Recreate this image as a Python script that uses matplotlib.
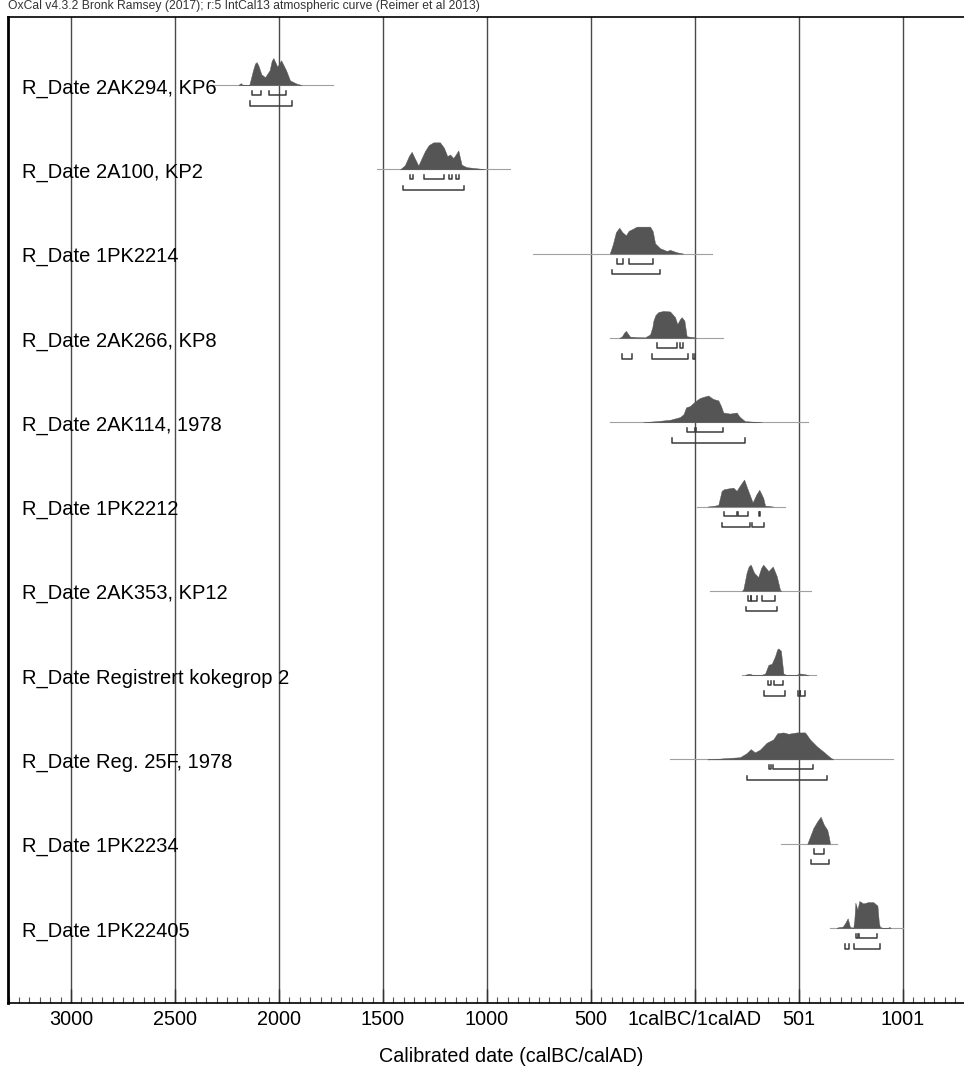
import matplotlib.pyplot as plt
from matplotlib.ticker import MultipleLocator
import matplotlib.transforms as mtransforms

plt.rcParams["font.family"] = ["Liberation Sans", "DejaVu Sans"]

HEADER = "OxCal v4.3.2 Bronk Ramsey (2017); r:5 IntCal13 atmospheric curve (Reimer et al 2013)"

labels = [
    "R_Date 2AK294, KP6",
    "R_Date 2A100, KP2",
    "R_Date 1PK2214",
    "R_Date 2AK266, KP8",
    "R_Date 2AK114, 1978",
    "R_Date 1PK2212",
    "R_Date 2AK353, KP12",
    "R_Date Registrert kokegrop 2",
    "R_Date Reg. 25F, 1978",
    "R_Date 1PK2234",
    "R_Date 1PK22405",
]

# years: negative = BC, positive = AD ; p = relative probability (max 1)
kp6_yr = [-2195, -2184, -2173, -2143, -2125, -2115, -2107, -2098, -2085, -2067,
          -2045, -2035, -2027, -2008, -1990, -1966, -1947, -1915, -1891]
kp6_p = [0, 0.07, 0, 0, 0.55, 0.8, 0.85, 0.7, 0.4, 0.29,
         0.55, 0.9, 1.0, 0.68, 0.92, 0.55, 0.17, 0.05, 0]
kp2_yr = [-1418, -1395, -1375, -1362, -1350, -1330, -1315, -1298, -1280, -1258, -1226,
          -1207, -1191, -1178, -1162, -1150, -1138, -1122, -1098, -1050, -1010]
kp2_p = [0, 0.15, 0.5, 0.65, 0.45, 0.14, 0.4, 0.68, 0.9, 1.0, 1.0,
         0.8, 0.49, 0.55, 0.42, 0.55, 0.7, 0.17, 0.08, 0.04, 0]
pk2214_yr = [-410, -395, -380, -364, -350, -332, -318, -304, -280, -250, -216,
             -203, -192, -168, -136, -120, -88, -56]
pk2214_p = [0, 0.35, 0.8, 0.96, 0.8, 0.68, 0.85, 0.9, 1.0, 1.0, 1.0,
            0.83, 0.38, 0.2, 0.1, 0.14, 0.05, 0]
kp8_yr = [-365, -352, -340, -332, -322, -313, -280, -240, -216, -205, -200, -190,
          -176, -152, -120, -96, -85, -72, -64, -51, -40, -8, 8]
kp8_p = [0, 0.05, 0.2, 0.26, 0.15, 0.05, 0.03, 0.02, 0.13, 0.4, 0.64, 0.85,
         0.96, 1.0, 0.98, 0.77, 0.51, 0.7, 0.77, 0.64, 0.06, 0.03, 0]
ak114_yr = [-250, -184, -120, -72, -55, -43, -24, 0, 24, 45, 64, 80, 88, 112,
            125, 136, 168, 200, 215, 240, 280, 321]
ak114_p = [0, 0.04, 0.09, 0.19, 0.3, 0.55, 0.6, 0.77, 0.9, 0.95, 0.99, 0.9, 0.86, 0.81,
           0.6, 0.36, 0.32, 0.36, 0.2, 0.04, 0.02, 0]
pk2212_yr = [60, 88, 112, 121, 128, 139, 160, 184, 200, 218, 236, 256, 277, 295,
             309, 328, 337, 376]
pk2212_p = [0, 0.02, 0.06, 0.35, 0.58, 0.64, 0.67, 0.7, 0.58, 0.8, 1.0, 0.58, 0.15, 0.45,
            0.62, 0.32, 0.03, 0]
kp12_yr = [225, 232, 240, 248, 258, 268, 284, 304, 318, 328, 353, 374, 393, 409, 415]
kp12_p = [0, 0.05, 0.35, 0.67, 0.9, 0.97, 0.67, 0.51, 0.85, 0.97, 0.73, 0.9, 0.54, 0.03, 0]
kok2_yr = [240, 252, 264, 276, 296, 320, 337, 353, 369, 385, 395, 401, 413, 425,
           441, 485, 502, 515, 529, 545]
kok2_p = [0, 0.04, 0.05, 0.01, 0.0, 0.01, 0.06, 0.38, 0.42, 0.7, 0.95, 0.99, 0.9, 0.06,
          0, 0, 0.06, 0.05, 0.03, 0]
r25f_yr = [60, 88, 136, 216, 248, 268, 288, 312, 345, 376, 396, 425, 449, 489,
           529, 553, 585, 617, 649, 665]
r25f_p = [0, 0.01, 0.04, 0.08, 0.23, 0.38, 0.26, 0.36, 0.62, 0.74, 0.97, 1.0, 0.95, 1.0,
          1.0, 0.74, 0.49, 0.29, 0.08, 0]
pk2234_yr = [540, 553, 569, 588, 604, 620, 636, 645, 649]
pk2234_p = [0, 0.26, 0.58, 0.83, 1.0, 0.7, 0.51, 0.2, 0]
pk22405_yr = [680, 689, 710, 721, 734, 745, 761, 766, 771, 781, 790, 809, 833, 857,
              877, 884, 889, 905, 927, 934, 941]
pk22405_p = [0, 0.03, 0.05, 0.17, 0.36, 0.04, 0.01, 0.3, 0.94, 0.68, 1.0, 0.91, 0.96, 0.96,
             0.83, 0.2, 0.04, 0, 0, 0.04, 0]

# extent of the thin line under each distribution
line_ranges = [(-2330, -1740), (-1530, -889), (-777, 80), (-409, 135), (-409, 545),
               (8, 433), (72, 556), (224, 582), (-120, 954), (412, 681), (649, 1001)]

# 68.2% and 95.4% ranges
ranges68 = [
    [(-2128, -2088), (-2047, -1966)],
    [(-1370, -1354), (-1301, -1207), (-1181, -1170), (-1149, -1133)],
    [(-374, -348), (-317, -203)],
    [(-184, -88), (-72, -56)],
    [(-37, -2), (3, 133)],
    [(139, 204), (209, 256), (306, 313)],
    [(256, 268), (270, 296), (324, 385)],
    [(353, 364), (380, 425)],
    [(356, 364), (376, 566)],
    [(572, 622)],
    [(774, 782), (790, 873)],
]
ranges95 = [
    [(-2139, -1936)],
    [(-1402, -1109)],
    [(-401, -168)],
    [(-352, -304), (-208, -35), (-8, 0)],
    [(-109, 240)],
    [(128, 264), (273, 332)],
    [(244, 396)],
    [(332, 433), (493, 503), (505, 529)],
    [(252, 633)],
    [(556, 646)],
    [(721, 740), (764, 891)],
]

tick_pos = [-3000, -2500, -2000, -1500, -1000, -500, 0, 500, 1000]
tick_labels = ["3000", "2500", "2000", "1500", "1000", "500", "1calBC/1calAD", "501", "1001"]

dists = [(kp6_yr, kp6_p), (kp2_yr, kp2_p), (pk2214_yr, pk2214_p), (kp8_yr, kp8_p),
         (ak114_yr, ak114_p), (pk2212_yr, pk2212_p), (kp12_yr, kp12_p), (kok2_yr, kok2_p),
         (r25f_yr, r25f_p), (pk2234_yr, pk2234_p), (pk22405_yr, pk22405_p)]

# -------------------------
# Figure
# -------------------------
fig = plt.figure(figsize=(9.64, 10.69), dpi=100)
ax = fig.add_axes([8 / 964, 66 / 1069, 980 / 964, 986 / 1069])

n = len(labels)
H = 0.32  # peak height in row units
trans = mtransforms.blended_transform_factory(ax.transAxes, ax.transData)
for i, ((yr, p), label) in enumerate(zip(dists, labels)):
    base = n - i
    lo, hi = line_ranges[i]
    ax.plot([lo, hi], [base, base], color="#a0a0a0", linewidth=0.8, zorder=2)
    ax.fill_between(yr, base, [base + v * H for v in p], color="#555555",
                    linewidth=0.3, edgecolor="#555555", zorder=3)
    for a, b in ranges68[i]:
        y0 = base - 0.118
        ax.plot([a, a, b, b], [y0 + 0.052, y0, y0, y0 + 0.052],
                color="#3a3a3a", linewidth=1.1, zorder=3)
    for a, b in ranges95[i]:
        y0 = base - 0.245
        ax.plot([a, a, b, b], [y0 + 0.052, y0, y0, y0 + 0.052],
                color="#3a3a3a", linewidth=1.1, zorder=3)
    ax.text(14 / 980, base - 0.1, label, transform=trans, fontsize=14.5,
            ha="left", va="baseline", color="black", zorder=4)

for xv in tick_pos:
    ax.axvline(xv, color="#4a4a4a", linewidth=1.0, zorder=1)

px_per_year = 104 / 500
ax.set_xlim(-3000 - 63 / px_per_year, -3000 + (980 - 63) / px_per_year)
ax.set_ylim(1 - 0.89, n + 0.807)

ax.set_xticks(tick_pos)
ax.set_xticklabels(tick_labels, fontsize=14.3)
ax.xaxis.set_minor_locator(MultipleLocator(50))
ax.tick_params(axis="x", which="major", direction="in", length=10, width=1,
               color="#333333", pad=5)
ax.tick_params(axis="x", which="minor", direction="in", length=4, width=0.8,
               color="#555555")
ax.set_yticks([])

ax.spines["right"].set_visible(False)
ax.spines["left"].set_linewidth(2)
ax.spines["top"].set_linewidth(1.2)
ax.spines["bottom"].set_linewidth(1.2)

fig.text(8 / 964, 1 - 6 / 1069, HEADER, fontsize=8.7, color="#333333",
         ha="left", va="center")
fig.text(511 / 964, 1 - 1057 / 1069, "Calibrated date (calBC/calAD)", fontsize=14.2,
         ha="center", va="center")

plt.savefig("out.png", dpi=100)
